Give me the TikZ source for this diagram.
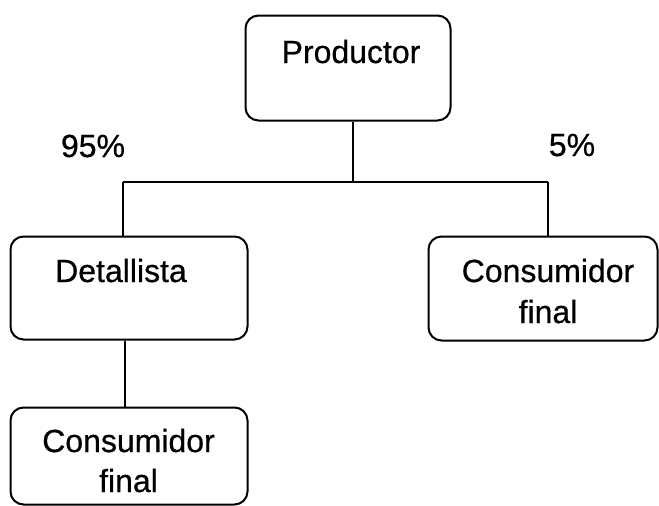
\documentclass[tikz,border=0pt]{standalone}
\usepackage{fontspec}
\setmainfont{Liberation Sans}
\newfontface\lblfont{Liberation Sans}[FakeBold=0.6]
\begin{document}
\begin{tikzpicture}[x=1pt,y=-1pt,
  box/.style={draw, line width=2pt, rounded corners=13pt, inner sep=0pt},
  txt/.style={anchor=base, inner sep=0pt, font=\lblfont\fontsize{32}{38}\selectfont},
  conn/.style={line width=2pt}]
\useasboundingbox (0,0) rectangle (659,506);
% boxes
\node[box, minimum width=205pt, minimum height=105pt] (prod) at (348,68) {};
\node[box, minimum width=237pt, minimum height=103pt] (det) at (129,288) {};
\node[box, minimum width=229pt, minimum height=104pt] (cfa) at (543,288.5) {};
\node[box, minimum width=237pt, minimum height=97pt] (cfb) at (129,456) {};
% texts
\node[txt] (tprod) at (351,63) {Productor};
\node[txt] (tdet) at (121,282) {Detallista};
\node[txt] (tcfa1) at (548,282) {Consumidor};
\node[txt] (tcfa2) at (548,323) {final};
\node[txt] (tcfb1) at (128.5,452) {Consumidor};
\node[txt] (tcfb2) at (128.5,492) {final};
\node[txt] (p95) at (93,157) {95\%};
\node[txt] (p5) at (572,156) {5\%};
% connectors
\coordinate (j) at (353,182);
\coordinate (jl) at (123,182);
\coordinate (jr) at (548,182);
\coordinate (jd) at (125,0);
\draw[conn] (j |- prod.south) -- (j);
\draw[conn] (jl) -- (jr);
\draw[conn] (jl) -- (jl |- det.north);
\draw[conn] (jr) -- (jr |- cfa.north);
\draw[conn] (jd |- det.south) -- (jd |- cfb.north);
\end{tikzpicture}
\end{document}
